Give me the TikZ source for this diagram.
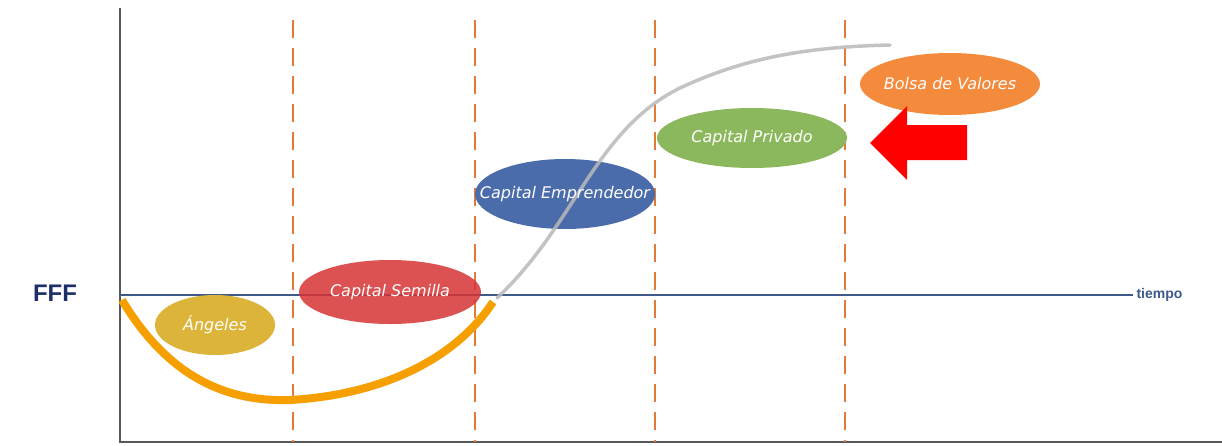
\documentclass[tikz,border=0pt]{standalone}
\usepackage{fontspec}
\setmainfont{Liberation Sans}
\newfontfamily\stagefont{DejaVu Sans}
\usetikzlibrary{shapes.geometric}
\definecolor{navy}{HTML}{1C2F6B}
\definecolor{tline}{HTML}{3E5A8A}
\definecolor{dashc}{HTML}{E07B3A}
\definecolor{cang}{HTML}{DDB43A}
\definecolor{csem}{HTML}{D63333}
\definecolor{cemp}{HTML}{4A6CAA}
\definecolor{cpri}{HTML}{8BB85C}
\definecolor{cbol}{HTML}{F48A3C}
\definecolor{curvor}{HTML}{F5A000}
\tikzset{
  stage/.style={ellipse, inner sep=0pt},
  stagetext/.style={text=white, inner sep=0pt, font=\stagefont\itshape\fontsize{16}{18}\selectfont},
  divider/.style={dashc, line width=2.5pt, dash pattern=on 18pt off 10pt},
}
\begin{document}
\begin{tikzpicture}[x=1pt,y=-1pt]
\useasboundingbox (0,0) rectangle (1222,445);
% axes
\coordinate (atop) at (120,8);
\coordinate (aorig) at (120,442);
\coordinate (aend) at (1222,442);
\draw[gray!70!black, line width=1.5pt] (atop) -- (aorig) -- (aend);
% dashed dividers
\foreach \x/\n in {293/a,475/b,655/c,845/d}{
  \coordinate (d\n t) at (\x,20);
  \coordinate (d\n b) at (\x,442);
  \draw[divider] (d\n t) -- (d\n b);
}
% time line
\node[text=tline, font=\bfseries\fontsize{14}{16}\selectfont, anchor=west] (tiempo) at (1133,295) {tiempo};
\coordinate (tstart) at (120,295);
\draw[tline, line width=2pt] (tstart) -- (tiempo.west);
\node[text=navy, font=\bfseries\fontsize{24}{28}\selectfont] (fff) at (55,293) {FFF};
% ellipses
\node[stage, fill=cang, minimum width=120pt, minimum height=60pt,
  label={[stagetext]center:Ángeles}] (ang) at (215,325) {};
\node[stage, fill=csem, fill opacity=0.85, minimum width=182pt, minimum height=64pt,
  label={[stagetext]center:Capital Semilla}] (sem) at (390,292) {};
\node[stage, fill=cemp, minimum width=180pt, minimum height=70pt] (emp) at (565,194) {};
% gray S curve
\coordinate (s0) at (497,298);
\coordinate (s1) at (890,45);
\draw[gray!55, opacity=0.85, line width=3.5pt, line cap=round] (s0) .. controls (575,225) and (595,130) .. (680,88) .. controls (740,60) and (800,47) .. (s1);
\node[stagetext] (embl) at (emp.center) {Capital Emprendedor};
\node[stage, fill=cpri, minimum width=190pt, minimum height=60pt,
  label={[stagetext]center:Capital Privado}] (pri) at (752,138) {};
\node[stage, fill=cbol, minimum width=180pt, minimum height=62pt,
  label={[stagetext]center:Bolsa de Valores}] (bol) at (950,84) {};
% orange U curve
\coordinate (u0) at (122,300);
\coordinate (u1) at (493,302);
\draw[curvor, line width=8pt] (u0) .. controls (170,380) and (230,402) .. (290,400) .. controls (380,395) and (455,360) .. (u1);
% red arrow
\coordinate (arr) at (870,143);
\fill[red] (arr) -- (907,106) -- (907,125) -- (967,125) -- (967,160) -- (907,160) -- (907,180) -- cycle;
\end{tikzpicture}
\end{document}
